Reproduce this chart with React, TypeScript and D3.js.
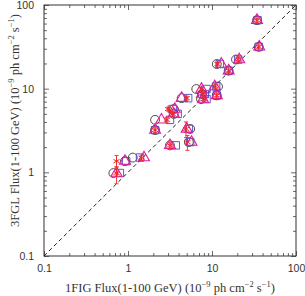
import React, { useRef, useEffect } from 'react';
import * as d3 from 'd3';

// 3FGL flux of each source (y), 1e-9 ph cm^-2 s^-1
const flux3FGL = [65.8, 31.6, 22.3, 16.4, 19.7, 10.6, 8.3, 9.9, 8.6, 7.5, 7.7, 5.7, 5.0, 4.24, 3.2, 3.3, 2.1, 2.3, 1.5, 1.36, 0.98];
// 1FIG flux for each of the four estimates (x)
const fluxCircle = [34.3, 36.0, 19.3, 15.8, 11.4, 11.8, 11.4, 6.5, 7.6, 7.4, 4.35, 3.5, 3.5, 2.1, 2.1, 5.5, 3.16, 5.3, 1.14, 0.92, 0.67];
const fluxSquare = [34.8, 36.0, 20.5, 15.8, 12.4, 11.2, 11.4, 8.6, 8.2, 8.6, 5.2, 3.4, 3.9, 3.16, 2.1, 5.3, 3.7, 5.5, 1.39, 0.95, 0.8];
const fluxTriangle = [34.3, 36.5, 21.1, 15.8, 12.9, 10.8, 11.4, 7.5, 7.6, 7.8, 4.35, 3.6, 3.5, 2.5, 2.1, 5.0, 3.16, 5.7, 1.55, 0.92, 0.73];
const fluxStar = [34.3, 36.0, 20.5, 15.8, 11.6, 11.0, 11.4, 7.5, 7.8, 8.0, 5.0, 3.0, 3.4, 2.9, 2.1, 4.9, 3.16, 5.1, 1.45, 0.73, 0.73];
// 3FGL flux error range (low, high)
const errLow = [62.0, 30.0, 21.2, 15.6, 18.8, 10.1, 7.9, 9.4, 8.2, 7.1, 7.3, 5.4, 4.7, 4.0, 3.0, 2.6, 1.95, 1.83, 1.4, 1.16, 0.73];
const errHigh = [69.5, 33.2, 23.4, 17.2, 20.6, 11.1, 8.7, 10.4, 9.0, 7.9, 8.1, 6.0, 5.3, 4.5, 3.4, 4.0, 2.25, 2.76, 1.6, 1.59, 1.16];

const majorTicks = [0.1, 1, 10, 100];
const tickLabels = ['0.1', '1', '10', '100'];

const App = () => {
  const svgRef = useRef<SVGSVGElement>(null);

  useEffect(() => {
    const width = 305;
    const height = 296;
    const margin = { top: 5, right: 9, bottom: 40, left: 44 };

    const svg = d3.select(svgRef.current)
      .attr('width', width)
      .attr('height', height)
      .style('font-family', '"Liberation Serif", serif');

    svg.selectAll('*').remove();

    const x = d3.scaleLog()
      .domain([0.1, 100])
      .range([margin.left, width - margin.right]);

    const y = d3.scaleLog()
      .domain([0.1, 100])
      .range([height - margin.bottom, margin.top]);

    const minorTicks = x.ticks().filter(t => !majorTicks.includes(t));
    const fmt = (d: number) => tickLabels[majorTicks.indexOf(d)];

    const styleAxis = (g: any) => {
      g.select('.domain').remove();
      g.selectAll('line').attr('stroke', '#444').attr('stroke-width', 0.8);
      g.selectAll('text').style('font-size', '10.5px').attr('fill', '#333');
    };

    const bottomY = height - margin.bottom;
    const topY = margin.top;
    const leftX = margin.left;
    const rightX = width - margin.right;

    // bottom and top axes
    svg.append('g').attr('transform', `translate(0,${bottomY})`)
      .call(d3.axisBottom(x).tickValues(majorTicks).tickSize(-5).tickPadding(9).tickFormat(fmt as any))
      .call(styleAxis);
    svg.append('g').attr('transform', `translate(0,${bottomY})`)
      .call(d3.axisBottom(x).tickValues(minorTicks).tickSize(-3).tickFormat(() => ''))
      .call(styleAxis);
    svg.append('g').attr('transform', `translate(0,${topY})`)
      .call(d3.axisTop(x).tickValues(majorTicks).tickSize(-5).tickFormat(() => ''))
      .call(styleAxis);
    svg.append('g').attr('transform', `translate(0,${topY})`)
      .call(d3.axisTop(x).tickValues(minorTicks).tickSize(-3).tickFormat(() => ''))
      .call(styleAxis);

    // left and right axes
    svg.append('g').attr('transform', `translate(${leftX},0)`)
      .call(d3.axisLeft(y).tickValues(majorTicks).tickSize(-5).tickPadding(10).tickFormat(fmt as any))
      .call(styleAxis);
    svg.append('g').attr('transform', `translate(${leftX},0)`)
      .call(d3.axisLeft(y).tickValues(minorTicks).tickSize(-3).tickFormat(() => ''))
      .call(styleAxis);
    svg.append('g').attr('transform', `translate(${rightX},0)`)
      .call(d3.axisRight(y).tickValues(majorTicks).tickSize(-5).tickFormat(() => ''))
      .call(styleAxis);
    svg.append('g').attr('transform', `translate(${rightX},0)`)
      .call(d3.axisRight(y).tickValues(minorTicks).tickSize(-3).tickFormat(() => ''))
      .call(styleAxis);

    // frame
    svg.append('rect')
      .attr('x', x(0.1)).attr('y', y(100))
      .attr('width', x(100) - x(0.1)).attr('height', y(0.1) - y(100))
      .attr('fill', 'none').attr('stroke', '#333').attr('stroke-width', 1);

    // y = x line
    svg.append('line')
      .attr('x1', x(0.1)).attr('y1', y(0.1))
      .attr('x2', x(100)).attr('y2', y(100))
      .attr('stroke', '#222').attr('stroke-width', 1)
      .attr('stroke-dasharray', '4,3');

    const idx = d3.range(flux3FGL.length);

    const drawSeries = (xs: number[], type: any, size: number, color: string, sw: number) => {
      svg.append('g').selectAll('path')
        .data(idx)
        .enter()
        .append('path')
        .attr('transform', i => `translate(${x(xs[i])},${y(flux3FGL[i])})`)
        .attr('d', d3.symbol(type, size)() as string)
        .attr('fill', 'none')
        .attr('stroke', color)
        .attr('stroke-width', sw);
    };

    drawSeries(fluxCircle, d3.symbolCircle, 62, '#3a3a3a', 0.9);
    drawSeries(fluxSquare, d3.symbolSquare, 56, '#4a4ac8', 0.9);
    drawSeries(fluxTriangle, d3.symbolTriangle, 52, '#e6179a', 1.1);

    // error bars for the asterisk series
    const eb = svg.append('g').attr('stroke', '#f02828').attr('stroke-width', 0.9);
    eb.selectAll('line.v').data(idx).enter().append('line').attr('class', 'v')
      .attr('x1', i => x(fluxStar[i])).attr('x2', i => x(fluxStar[i]))
      .attr('y1', i => y(errLow[i])).attr('y2', i => y(errHigh[i]));
    eb.selectAll('line.lo').data(idx).enter().append('line').attr('class', 'lo')
      .attr('x1', i => x(fluxStar[i]) - 2).attr('x2', i => x(fluxStar[i]) + 2)
      .attr('y1', i => y(errLow[i])).attr('y2', i => y(errLow[i]));
    eb.selectAll('line.hi').data(idx).enter().append('line').attr('class', 'hi')
      .attr('x1', i => x(fluxStar[i]) - 2).attr('x2', i => x(fluxStar[i]) + 2)
      .attr('y1', i => y(errHigh[i])).attr('y2', i => y(errHigh[i]));

    drawSeries(fluxStar, d3.symbolAsterisk, 34, '#f02828', 1);

    // axis titles with superscripts
    const addTitle = (t: any, label: string) => {
      t.append('tspan').text(`${label} Flux(1-100 GeV) (10`);
      t.append('tspan').attr('dy', -5).style('font-size', '8.5px').text('−9');
      t.append('tspan').attr('dy', 5).text(' ph cm');
      t.append('tspan').attr('dy', -5).style('font-size', '8.5px').text('−2');
      t.append('tspan').attr('dy', 5).text(' s');
      t.append('tspan').attr('dy', -5).style('font-size', '8.5px').text('−1');
      t.append('tspan').attr('dy', 5).text(')');
    };

    const xt = svg.append('text')
      .attr('x', (x(0.1) + x(100)) / 2)
      .attr('y', 292)
      .attr('text-anchor', 'middle')
      .attr('fill', '#333')
      .style('font-size', '12.5px');
    addTitle(xt, '1FIG');

    const yt = svg.append('text')
      .attr('transform', `translate(19,${(y(0.1) + y(100)) / 2 - 10}) rotate(-90)`)
      .attr('text-anchor', 'middle')
      .attr('fill', '#333')
      .style('font-size', '12.5px');
    addTitle(yt, '3FGL');
  }, []);

  return (
    <svg ref={svgRef} style={{ position: 'absolute', left: 0, top: 0 }}></svg>
  );
};

export default App;
